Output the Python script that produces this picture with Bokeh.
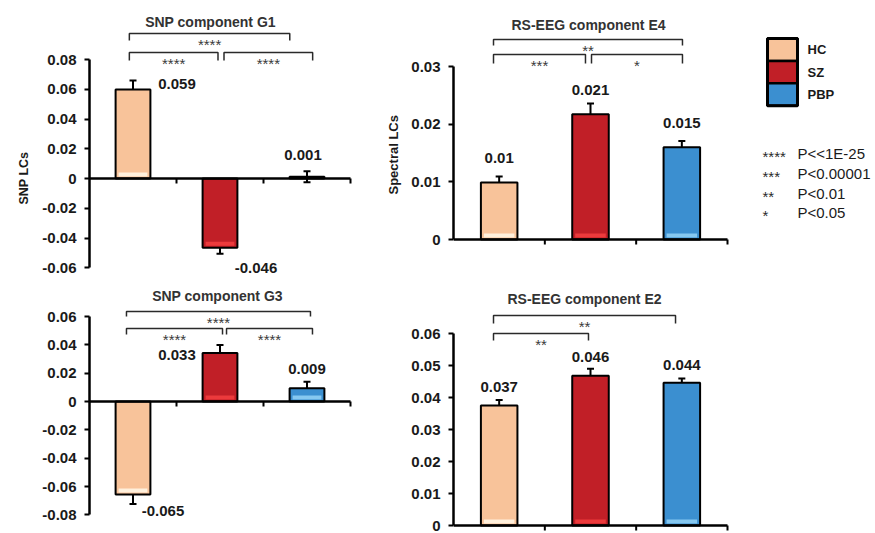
import math
from bokeh.plotting import figure
from bokeh.models import Range1d, FixedTicker, Label, Whisker, TeeHead, ColumnDataSource, Title
from bokeh.layouts import row, column
from bokeh.embed import file_html
from bokeh.resources import INLINE
from bokeh.core.properties import value

# ---------------- data ----------------
groups = ["HC", "SZ", "PBP"]
group_colors = ["#F8C39A", "#C11F27", "#3B8FD0"]
strip_colors = ["#FFF0DC", "#EC3A3C", "#86C8F0"]

g1_title = "SNP component G1"
g1_ylabel = "SNP LCs"
g1_means = [0.0598, -0.0466, 0.0012]
g1_errs = [0.0060, 0.0040, 0.0037]
g1_value_labels = ["0.059", "-0.046", "0.001"]
g1_ticks = [-0.06, -0.04, -0.02, 0, 0.02, 0.04, 0.06, 0.08]
g1_tick_labels = ["-0.06", "-0.04", "-0.02", "0", "0.02", "0.04", "0.06", "0.08"]
g1_pairs = [(0, 2), (0, 1), (1, 2)]
g1_stars = ["****", "****", "****"]

e4_title = "RS-EEG component E4"
e4_ylabel = "Spectral LCs"
e4_means = [0.0099, 0.0217, 0.0160]
e4_errs = [0.00104, 0.0019, 0.0011]
e4_value_labels = ["0.01", "0.021", "0.015"]
e4_ticks = [0, 0.01, 0.02, 0.03]
e4_tick_labels = ["0", "0.01", "0.02", "0.03"]
e4_pairs = [(0, 2), (0, 1), (1, 2)]
e4_stars = ["**", "***", "*"]

g3_title = "SNP component G3"
g3_means = [-0.0657, 0.0343, 0.0093]
g3_errs = [0.0067, 0.0056, 0.0046]
g3_value_labels = ["-0.065", "0.033", "0.009"]
g3_ticks = [-0.08, -0.06, -0.04, -0.02, 0, 0.02, 0.04, 0.06]
g3_tick_labels = ["-0.08", "-0.06", "-0.04", "-0.02", "0", "0.02", "0.04", "0.06"]
g3_pairs = [(0, 2), (0, 1), (1, 2)]
g3_stars = ["****", "****", "****"]

e2_title = "RS-EEG component E2"
e2_means = [0.0375, 0.0468, 0.0446]
e2_errs = [0.0017, 0.0022, 0.0013]
e2_value_labels = ["0.037", "0.046", "0.044"]
e2_ticks = [0, 0.01, 0.02, 0.03, 0.04, 0.05, 0.06]
e2_tick_labels = ["0", "0.01", "0.02", "0.03", "0.04", "0.05", "0.06"]
e2_pairs = [(0, 2), (0, 1)]
e2_stars = ["**", "**"]

sig_stars = ["****", "***", "**", "*"]
sig_texts = ["P<<1E-25", "P<0.00001", "P<0.01", "P<0.05"]

FONT = "Liberation Sans"

# ---------------- layout (page pixels) ----------------
# ylabel: (text, bottom end of the rotated text in page px, font size, standoff)
layouts = {
    "g1": dict(box=(0, 0, 360, 280), frame_x=(89, 350), zero=178, top_px=59,
               title_xy=(210, 21), ylabel=(g1_ylabel, 204, "12.5px", 18),
               label_offsets=[(44, -6), (36, 20), (-4, -22)],
               brackets=[(33, 7, -0.042, -0.198), (52, 8, -0.042, -0.023), (52, 8, 0.046, 0.065)]),
    "e4": dict(box=(360, 0, 385, 280), frame_x=(453, 727), zero=239, top_px=66,
               title_xy=(588, 24), ylabel=(e4_ylabel, 194, "13px", 16),
               label_offsets=[(0, -24), (0, -24), (0, -24)],
               brackets=[(39, 6, -0.062, 0.007), (54, 9, -0.062, -0.055), (54, 9, 0.011, 0.007)]),
    "g3": dict(box=(0, 280, 360, 253), frame_x=(89, 350), zero=401, top_px=316,
               title_xy=(217, 295), ylabel=None,
               label_offsets=[(30, 16), (-43, 2), (0, -19)],
               brackets=[(311, 5, -0.075, 0.04), (328, 6, -0.075, 0.029), (328, 6, 0.075, 0.063)]),
    "e2": dict(box=(360, 280, 385, 253), frame_x=(453, 727), zero=525, top_px=333,
               title_xy=(584, 298), ylabel=None,
               label_offsets=[(0, -19), (0, -19), (0, -18)],
               brackets=[(315, 8, -0.062, -0.069), (333, 7, -0.062, -0.022)]),
}


def make_panel(key, title, means, errs, vlabels, ticks, tick_labels, pairs, stars):
    L = layouts[key]
    pl, pt, W, H = L["box"]
    fl, fr = L["frame_x"]
    z = L["zero"]
    ppu = (z - L["top_px"]) / max(ticks)
    n = len(groups)
    ppx = (fr - fl) / n
    pad = 4
    x_end = (fr + pad - fl) / ppx
    y_top = (z - pt) / ppu
    y_bot = -(pt + H - z) / ppu

    def fx(px):
        return (px - fl) / ppx

    def fy(py):
        return (z - py) / ppu

    p = figure(width=W, height=H, x_range=Range1d(0, x_end), y_range=Range1d(y_bot, y_top),
               x_axis_location=None, y_axis_location="left", toolbar_location=None,
               output_backend="svg", min_border_left=fl - pl, min_border_right=pl + W - (fr + pad),
               min_border_top=0, min_border_bottom=0)
    p.outline_line_color = None
    p.background_fill_color = "white"
    p.border_fill_color = "white"
    p.grid.visible = False

    ax = p.yaxis[0]
    ax.ticker = FixedTicker(ticks=ticks)
    ax.major_label_overrides = {t: s for t, s in zip(ticks, tick_labels)}
    ax.bounds = (min(ticks), max(ticks))
    ax.minor_tick_line_color = None
    ax.major_tick_in = 0
    ax.major_tick_out = 5
    ax.major_tick_line_width = 2
    ax.axis_line_width = 2.5
    ax.major_label_standoff = 8
    ax.major_label_text_font = FONT
    ax.major_label_text_font_size = "15px"
    ax.major_label_text_font_style = "bold"
    ax.major_label_text_color = "#1a1a1a"

    # y-axis title as a side title, shifted to where the reference centres it
    if L["ylabel"]:
        txt, bottom_px, fs, standoff = L["ylabel"]
        off = (pt + H) - bottom_px
        p.add_layout(Title(text=txt, align="left", offset=off, text_font=FONT,
                           text_font_size=fs, text_font_style="bold", text_color="#1a1a1a",
                           standoff=standoff), "left")

    xs = [i + 0.5 for i in range(n)]
    bw = 0.4
    p.vbar(x=xs, top=means, bottom=0, width=bw, fill_color=group_colors,
           line_color="black", line_width=2)

    # bevel highlight at the visually lower end of each bar
    sl, sr, sb, st, sc = [], [], [], [], []
    for x, m, c in zip(xs, means, strip_colors):
        if abs(m) * ppu < 10:
            continue
        low = min(0, m)
        sl.append(x - bw / 2 + 3 / ppx)
        sr.append(x + bw / 2 - 3 / ppx)
        sb.append(low + 2 / ppu)
        st.append(low + 6 / ppu)
        sc.append(c)
    if sl:
        p.quad(left=sl, right=sr, bottom=sb, top=st, fill_color=sc, line_color=None)

    # x axis at zero with category ticks
    p.segment(x0=[0], y0=[0], x1=[n], y1=[0], line_color="black", line_width=2.5)
    bx = [i + 1 for i in range(n)]
    p.segment(x0=bx, y0=[0] * n, x1=bx, y1=[-5 / ppu] * n, line_color="black", line_width=2)

    # error bars
    src = ColumnDataSource(dict(x=xs, upper=[m + e for m, e in zip(means, errs)],
                                lower=[m - e for m, e in zip(means, errs)]))
    wh = Whisker(source=src, base="x", upper="upper", lower="lower", line_width=2, line_color="black",
                 upper_head=TeeHead(size=7, line_width=2, line_color="black"),
                 lower_head=TeeHead(size=7, line_width=2, line_color="black"))
    p.add_layout(wh)

    # value labels
    lx, ly = [], []
    for x, m, (dx, dy) in zip(xs, means, L["label_offsets"]):
        lx.append(x + dx / ppx)
        ly.append(m - dy / ppu)
    p.text(x=lx, y=ly, text=vlabels, text_font=value(FONT), text_font_style="bold",
           text_font_size="15px", text_align="center", text_baseline="middle", text_color="#1a1a1a")

    # significance brackets
    bxs, bys, tx, ty = [], [], [], []
    for (i, j), (by, drop, d0, d1) in zip(pairs, L["brackets"]):
        x0 = xs[i] + d0
        x1 = xs[j] + d1
        y = fy(by)
        yd = fy(by + drop)
        bxs.append([x0, x0, x1, x1])
        bys.append([yd, y, y, yd])
        tx.append((x0 + x1) / 2)
        ty.append(fy(by + 11))
    p.multi_line(xs=bxs, ys=bys, line_color="#2a2a2a", line_width=1.5)
    p.text(x=tx, y=ty, text=stars, text_font=value(FONT), text_font_size="15px",
           text_align="center", text_baseline="middle", text_color="#3a3a3a")

    # title
    tx0, ty0 = L["title_xy"]
    p.add_layout(Label(x=fx(tx0), y=fy(ty0), text=title, text_align="center",
                       text_baseline="middle", text_font=FONT, text_font_size="14px",
                       text_font_style="bold", text_color="#333333"))
    return p


f1 = make_panel("g1", g1_title, g1_means, g1_errs, g1_value_labels, g1_ticks, g1_tick_labels, g1_pairs, g1_stars)
f2 = make_panel("e4", e4_title, e4_means, e4_errs, e4_value_labels, e4_ticks, e4_tick_labels, e4_pairs, e4_stars)
f3 = make_panel("g3", g3_title, g3_means, g3_errs, g3_value_labels, g3_ticks, g3_tick_labels, g3_pairs, g3_stars)
f4 = make_panel("e2", e2_title, e2_means, e2_errs, e2_value_labels, e2_ticks, e2_tick_labels, e2_pairs, e2_stars)

# ---------------- legend panel ----------------
LW, LH = 130, 280
lg = figure(width=LW, height=LH, x_range=Range1d(0, LW), y_range=Range1d(LH, 0),
            x_axis_location=None, y_axis_location=None, toolbar_location=None,
            output_backend="svg", min_border=0)
lg.outline_line_color = None
lg.grid.visible = False
box_l, box_r, box_t, box_h = 22, 52, 38, 22.4
tops = [box_t + i * box_h for i in range(len(groups))]
lg.quad(left=box_l, right=box_r, top=tops, bottom=[t + box_h for t in tops],
        fill_color=group_colors, line_color="black", line_width=2.5)
lg.quad(left=[box_l], right=[box_r], top=[box_t], bottom=[box_t + box_h * len(groups)],
        fill_color=None, line_color="black", line_width=3)
lg.text(x=[62] * len(groups), y=[t + box_h / 2 for t in tops], text=groups, text_font=value(FONT),
        text_font_style="bold", text_font_size="13px", text_align="left", text_baseline="middle",
        text_color="#1a1a1a")
rows_y = [153, 173, 193, 212]
lg.text(x=[17] * 4, y=[y + 3 for y in rows_y], text=sig_stars, text_font=value(FONT),
        text_font_size="15px", text_align="left", text_baseline="middle", text_color="#2a2a2a")
lg.text(x=[52] * 4, y=rows_y, text=sig_texts, text_font=value(FONT),
        text_font_size="15px", text_align="left", text_baseline="middle", text_color="#1a1a1a")

page = column(row(f1, f2, lg), row(f3, f4))

with open("out.html", "w") as fh:
    fh.write(file_html(page, INLINE))
